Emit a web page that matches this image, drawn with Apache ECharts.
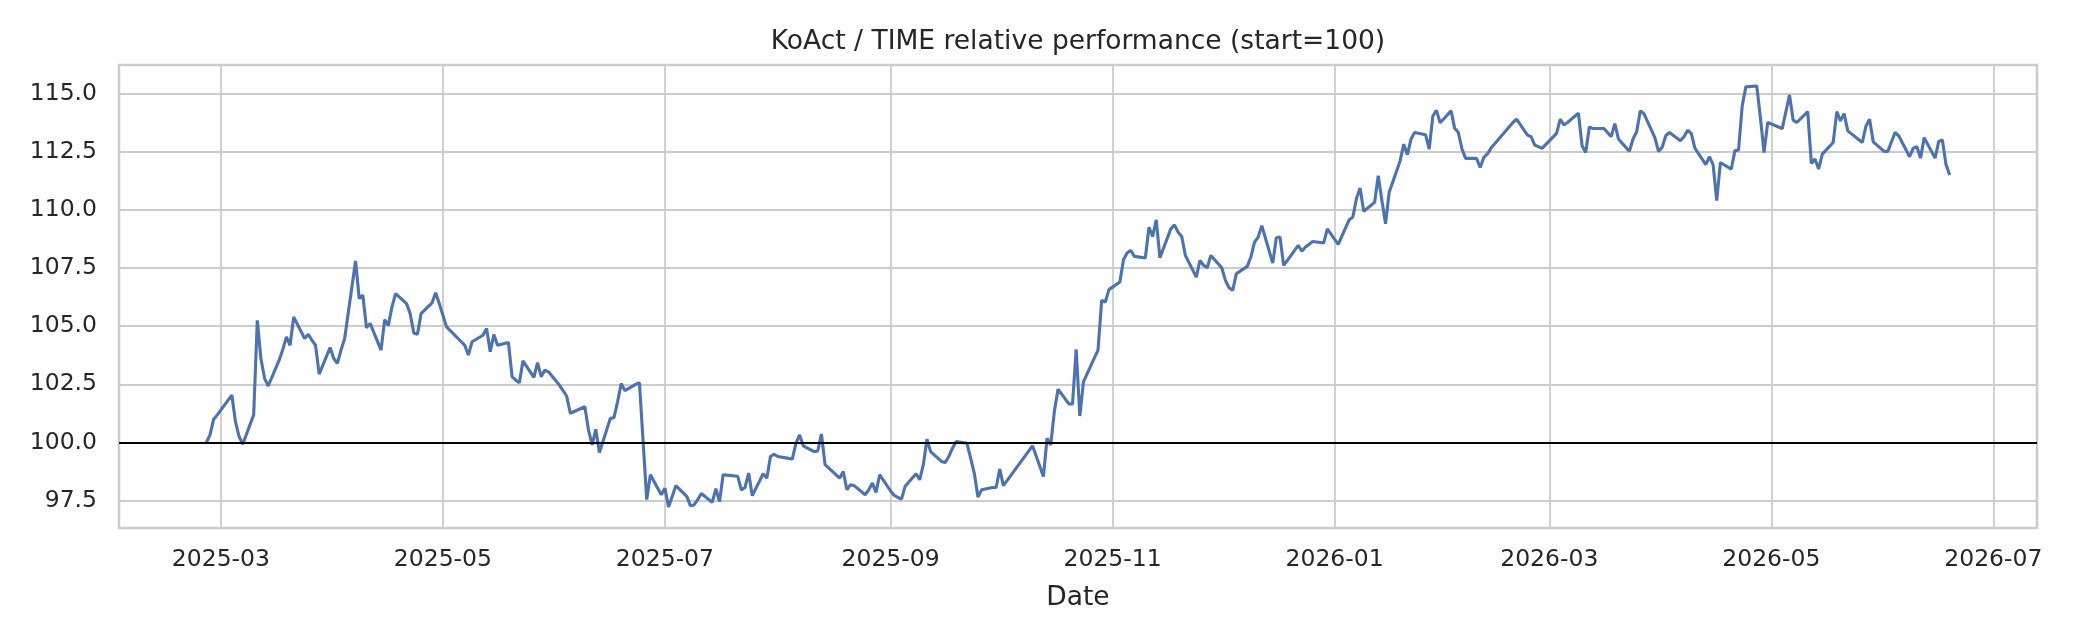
<!DOCTYPE html>
<html>
<head>
<meta charset="utf-8">
<script src="https://cdn.jsdelivr.net/npm/echarts@6/dist/echarts.min.js"></script>
<style>
html,body{margin:0;padding:0;background:#fff;}
#chart{width:2080px;height:640px;}
</style>
</head>
<body>
<div id="chart"></div>
<script>
const dates = [
'2025-02-25','2025-02-26','2025-02-27','2025-02-28','2025-03-04','2025-03-05','2025-03-06','2025-03-07','2025-03-10','2025-03-11',
'2025-03-12','2025-03-13','2025-03-14','2025-03-17','2025-03-18','2025-03-19','2025-03-20','2025-03-21','2025-03-24','2025-03-25',
'2025-03-26','2025-03-27','2025-03-28','2025-03-31','2025-04-01','2025-04-02','2025-04-03','2025-04-04','2025-04-07','2025-04-08',
'2025-04-09','2025-04-10','2025-04-11','2025-04-14','2025-04-15','2025-04-16','2025-04-17','2025-04-18','2025-04-21','2025-04-22',
'2025-04-23','2025-04-24','2025-04-25','2025-04-28','2025-04-29','2025-04-30','2025-05-02','2025-05-07','2025-05-08','2025-05-09',
'2025-05-12','2025-05-13','2025-05-14','2025-05-15','2025-05-16','2025-05-19','2025-05-20','2025-05-21','2025-05-22','2025-05-23',
'2025-05-26','2025-05-27','2025-05-28','2025-05-29','2025-05-30','2025-06-02','2025-06-04','2025-06-05','2025-06-09','2025-06-10',
'2025-06-11','2025-06-12','2025-06-13','2025-06-16','2025-06-17','2025-06-18','2025-06-19','2025-06-20','2025-06-23','2025-06-24',
'2025-06-25','2025-06-26','2025-06-27','2025-06-30','2025-07-01','2025-07-02','2025-07-03','2025-07-04','2025-07-07','2025-07-08',
'2025-07-09','2025-07-10','2025-07-11','2025-07-14','2025-07-15','2025-07-16','2025-07-17','2025-07-18','2025-07-21','2025-07-22',
'2025-07-23','2025-07-24','2025-07-25','2025-07-28','2025-07-29','2025-07-30','2025-07-31','2025-08-01','2025-08-04','2025-08-05',
'2025-08-06','2025-08-07','2025-08-08','2025-08-11','2025-08-12','2025-08-13','2025-08-14','2025-08-18','2025-08-19','2025-08-20',
'2025-08-21','2025-08-22','2025-08-25','2025-08-26','2025-08-27','2025-08-28','2025-08-29','2025-09-01','2025-09-02','2025-09-03',
'2025-09-04','2025-09-05','2025-09-08','2025-09-09','2025-09-10','2025-09-11','2025-09-12','2025-09-15','2025-09-16','2025-09-17',
'2025-09-18','2025-09-19','2025-09-22','2025-09-23','2025-09-24','2025-09-25','2025-09-26','2025-09-29','2025-09-30','2025-10-01',
'2025-10-02','2025-10-10','2025-10-13','2025-10-14','2025-10-15','2025-10-16','2025-10-17','2025-10-20','2025-10-21','2025-10-22',
'2025-10-23','2025-10-24','2025-10-27','2025-10-28','2025-10-29','2025-10-30','2025-10-31','2025-11-03','2025-11-04','2025-11-05',
'2025-11-06','2025-11-07','2025-11-10','2025-11-11','2025-11-12','2025-11-13','2025-11-14','2025-11-17','2025-11-18','2025-11-19',
'2025-11-20','2025-11-21','2025-11-24','2025-11-25','2025-11-26','2025-11-27','2025-11-28','2025-12-01','2025-12-02','2025-12-03',
'2025-12-04','2025-12-05','2025-12-08','2025-12-09','2025-12-10','2025-12-11','2025-12-12','2025-12-15','2025-12-16','2025-12-17',
'2025-12-18','2025-12-19','2025-12-22','2025-12-23','2025-12-24','2025-12-26','2025-12-29','2025-12-30','2026-01-02','2026-01-05',
'2026-01-06','2026-01-07','2026-01-08','2026-01-09','2026-01-12','2026-01-13','2026-01-14','2026-01-15','2026-01-16','2026-01-19',
'2026-01-20','2026-01-21','2026-01-22','2026-01-23','2026-01-26','2026-01-27','2026-01-28','2026-01-29','2026-01-30','2026-02-02',
'2026-02-03','2026-02-04','2026-02-05','2026-02-06','2026-02-09','2026-02-10','2026-02-11','2026-02-12','2026-02-13','2026-02-19',
'2026-02-20','2026-02-23','2026-02-24','2026-02-25','2026-02-26','2026-02-27','2026-03-03','2026-03-04','2026-03-05','2026-03-06',
'2026-03-09','2026-03-10','2026-03-11','2026-03-12','2026-03-13','2026-03-16','2026-03-17','2026-03-18','2026-03-19','2026-03-20',
'2026-03-23','2026-03-24','2026-03-25','2026-03-26','2026-03-27','2026-03-30','2026-03-31','2026-04-01','2026-04-02','2026-04-03',
'2026-04-06','2026-04-07','2026-04-08','2026-04-09','2026-04-10','2026-04-13','2026-04-14','2026-04-15','2026-04-16','2026-04-17',
'2026-04-20','2026-04-21','2026-04-22','2026-04-23','2026-04-24','2026-04-27','2026-04-28','2026-04-29','2026-04-30','2026-05-04',
'2026-05-06','2026-05-07','2026-05-08','2026-05-11','2026-05-12','2026-05-13','2026-05-14','2026-05-15','2026-05-18','2026-05-19',
'2026-05-20','2026-05-21','2026-05-22','2026-05-26','2026-05-27','2026-05-28','2026-05-29','2026-06-01','2026-06-02','2026-06-04',
'2026-06-05','2026-06-08','2026-06-09','2026-06-10','2026-06-11','2026-06-12','2026-06-15','2026-06-16','2026-06-17','2026-06-18',
'2026-06-19'
];
const values = [
100.00,100.33,101.00,101.19,102.04,100.90,100.26,99.93,101.19,105.25,
103.60,102.76,102.43,103.54,104.00,104.54,104.18,105.40,104.47,104.65,
104.40,104.18,102.94,104.08,103.61,103.40,103.97,104.47,107.80,106.18,
106.33,104.93,105.12,103.97,105.28,105.03,105.83,106.40,105.97,105.54,
104.71,104.65,105.54,106.00,106.44,105.97,104.97,104.18,103.76,104.33,
104.61,104.90,103.90,104.64,104.18,104.30,102.83,102.68,102.57,103.51,
102.80,103.43,102.83,103.11,103.04,102.47,102.00,101.26,101.54,100.54,
99.90,100.57,99.57,101.04,101.07,101.76,102.54,102.23,102.50,102.57,
100.06,97.55,98.62,97.76,98.04,97.23,97.68,98.15,97.69,97.29,
97.32,97.55,97.81,97.43,98.02,97.47,98.62,98.60,98.55,97.97,
98.07,98.69,97.72,98.66,98.47,99.40,99.50,99.40,99.32,99.29,
99.97,100.33,99.86,99.61,99.64,100.37,99.05,98.47,98.76,97.97,
98.19,98.15,97.76,97.97,98.26,97.86,98.62,97.92,97.73,97.65,
97.57,98.12,98.66,98.40,99.05,100.14,99.61,99.19,99.14,99.40,
99.76,100.04,99.97,99.33,98.69,97.66,97.97,98.07,98.07,98.86,
98.15,99.86,98.54,100.19,99.90,101.33,102.29,101.66,101.66,104.00,
101.14,102.61,103.64,103.97,106.11,106.04,106.57,106.90,107.85,108.15,
108.25,108.00,107.93,109.25,108.85,109.57,107.94,109.18,109.35,109.04,
108.85,108.04,107.11,107.82,107.62,107.51,108.04,107.51,106.97,106.65,
106.54,107.25,107.57,107.97,108.61,108.83,109.32,107.71,108.80,108.83,
107.61,107.82,108.47,108.22,108.40,108.64,108.57,109.18,108.51,109.57,
109.68,110.47,110.94,109.94,110.32,111.46,110.40,109.40,110.75,112.10,
112.82,112.37,113.04,113.32,113.22,112.61,114.03,114.27,113.74,114.25,
113.50,113.32,112.61,112.21,112.21,111.82,112.25,112.40,112.65,113.75,
113.89,113.21,113.14,112.78,112.71,112.64,113.28,113.89,113.65,113.75,
114.15,112.75,112.46,113.56,113.49,113.49,113.32,113.14,113.70,113.04,
112.51,113.04,113.35,114.25,114.13,113.10,112.51,112.68,113.18,113.32,
112.97,113.14,113.42,113.28,112.65,111.94,112.28,111.94,110.39,112.03,
111.75,112.54,112.57,114.46,115.28,115.32,113.96,112.46,113.75,113.49,
114.93,113.85,113.75,114.22,111.99,112.18,111.75,112.39,112.89,114.22,
113.82,114.13,113.39,112.89,113.60,113.89,112.92,112.51,112.51,113.32,
113.18,112.28,112.65,112.71,112.22,113.10,112.22,112.94,113.00,111.94,
111.49
];
const yTicks = [97.5, 100, 102.5, 105, 107.5, 110, 112.5, 115];
const xTickLabels = ['2025-03','2025-05','2025-07','2025-09','2025-11','2026-01','2026-03','2026-05','2026-07'];
const baseline = 100;
const titleText = 'KoAct / TIME relative performance (start=100)';
const xName = 'Date';

function toTs(s) {
  const p = s.split('-').map(Number);
  return new Date(p[0], p[1] - 1, p[2] || 1).getTime();
}
const seriesData = dates.map((d, i) => [toTs(d), values[i]]);
const xTickTs = xTickLabels.map(toTs);

const FONT = 'DejaVu Sans';
const TXT = '#262626';
const GRIDC = '#cccccc';

const chart = echarts.init(document.getElementById('chart'), null, {renderer: 'canvas', width: 2080, height: 640});
chart.setOption({
  animation: false,
  backgroundColor: '#ffffff',
  title: {
    text: titleText,
    left: 1078,
    textAlign: 'center',
    top: 29,
    padding: 0,
    textStyle: {fontFamily: FONT, fontSize: 26.5, fontWeight: 'normal', color: TXT}
  },
  grid: {
    left: 119, right: 43, top: 65, bottom: 112,
    show: true, borderColor: GRIDC, borderWidth: 2.5, backgroundColor: '#ffffff'
  },
  xAxis: {
    type: 'value',
    min: toTs('2025-02-01'),
    max: toTs('2026-07-13'),
    scale: true,
    name: xName,
    nameLocation: 'middle',
    nameGap: 57,
    nameTextStyle: {fontFamily: FONT, fontSize: 26.5, color: TXT},
    axisLine: {show: false},
    axisTick: {show: false, customValues: xTickTs},
    splitLine: {show: false},
    axisLabel: {
      customValues: xTickTs,
      margin: 20,
      fontFamily: FONT, fontSize: 23.5, color: TXT,
      formatter: function (v) {
        const d = new Date(v);
        return d.getFullYear() + '-' + String(d.getMonth() + 1).padStart(2, '0');
      }
    }
  },
  yAxis: {
    type: 'value',
    min: 96.33,
    max: 116.22,
    axisLine: {show: false},
    axisTick: {show: false, customValues: yTicks},
    splitLine: {show: false},
    axisLabel: {
      customValues: yTicks,
      margin: 22,
      fontFamily: FONT, fontSize: 23.5, color: TXT,
      formatter: function (v) { return Number(v).toFixed(1); }
    }
  },
  series: [
    {
      name: 'grid',
      type: 'line',
      data: [],
      silent: true,
      markLine: {
        silent: true,
        z: 1,
        symbol: ['none', 'none'],
        label: {show: false},
        emphasis: {disabled: true},
        lineStyle: {type: 'solid', color: GRIDC, width: 1.8},
        data: yTicks.map(v => ({yAxis: v})).concat(xTickTs.map(t => ({xAxis: t})))
      }
    },
    {
      name: 'KoAct / TIME',
      type: 'line',
      z: 3,
      data: seriesData,
      showSymbol: false,
      symbol: 'none',
      silent: true,
      lineStyle: {color: '#4C72B0', width: 3.1},
      markLine: {
        silent: true,
        z: 4,
        symbol: ['none', 'none'],
        label: {show: false},
        emphasis: {disabled: true},
        lineStyle: {type: 'solid', color: '#000000', width: 1.8},
        data: [{yAxis: baseline}]
      }
    }
  ]
});
</script>
</body>
</html>
